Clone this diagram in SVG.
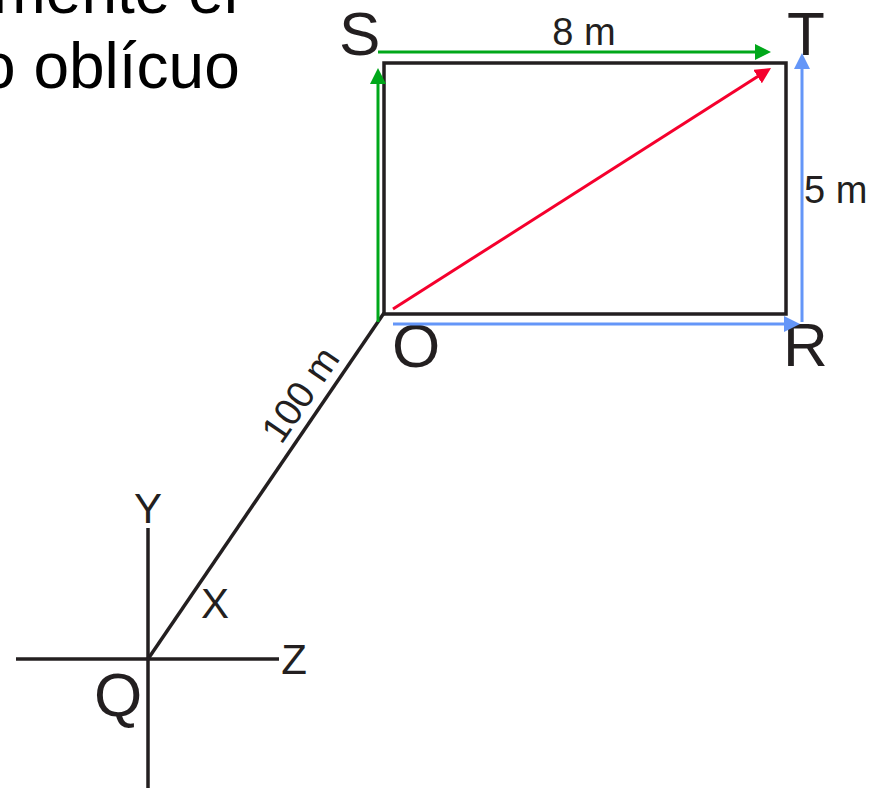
<svg xmlns="http://www.w3.org/2000/svg" width="883" height="788" viewBox="0 0 883 788">
  <style>
    text { font-family: "Liberation Sans", Arial, sans-serif; fill: #231f20; }
    .cap { font-size: 64px; fill: #000000; }
    .big { font-size: 62px; }
    .mid { font-size: 38px; }
    .ax { font-size: 42px; }
    .blk { stroke: #231f20; stroke-width: 3.5; fill: none; }
    .grn { stroke: #00a81a; stroke-width: 3; fill: none; }
    .blu { stroke: #6496f8; stroke-width: 3; fill: none; }
    .red { stroke: #f5002d; stroke-width: 3; fill: none; }
  </style>
  <defs>
    <marker id="ag" markerUnits="userSpaceOnUse" markerWidth="16" markerHeight="16" refX="8" refY="8" orient="auto">
      <path d="M0,0 L16,8 L0,16 z" fill="#00a81a"/>
    </marker>
    <marker id="ab" markerUnits="userSpaceOnUse" markerWidth="16" markerHeight="16" refX="8" refY="8" orient="auto">
      <path d="M0,0 L16,8 L0,16 z" fill="#6496f8"/>
    </marker>
    <marker id="ar" markerUnits="userSpaceOnUse" markerWidth="16" markerHeight="16" refX="8" refY="8" orient="auto">
      <path d="M0,0 L16,8 L0,16 z" fill="#f5002d"/>
    </marker>
  </defs>
  <rect width="883" height="788" fill="#ffffff"/>

  <g id="caption">
    <text class="cap" x="238" y="13" text-anchor="end">mente  el</text>
    <text class="cap" x="-20" y="88">o oblícuo</text>
  </g>

  <g id="rectangle">
    <rect class="blk" x="384" y="63" width="402" height="251"/>
  </g>

  <g id="axes">
    <line class="blk" x1="16" y1="659" x2="279" y2="659"/>
    <line class="blk" x1="148" y1="528" x2="148" y2="788"/>
    <text id="Y" class="ax" x="148" y="523" text-anchor="middle">Y</text>
    <text id="X" class="ax" x="215" y="618" text-anchor="middle">X</text>
    <text id="Z" class="ax" x="294" y="674" text-anchor="middle">Z</text>
  </g>

  <g id="S"><text class="big" x="339" y="55">S</text></g>
  <g id="T"><text class="big" x="787" y="55">T</text></g>
  <g id="O"><text class="big" x="392" y="367">O</text></g>
  <g id="R"><text class="big" x="783" y="366">R</text></g>
  <g id="Q"><text class="big" x="94" y="716">Q</text></g>

  <g id="connectors">
    <line class="blk" x1="148" y1="659" x2="384" y2="313"/>
    <line class="grn" x1="378" y1="52" x2="763" y2="52" marker-end="url(#ag)"/>
    <line class="grn" x1="378" y1="322" x2="378" y2="76" marker-end="url(#ag)"/>
    <line class="blu" x1="802" y1="322" x2="802" y2="61" marker-end="url(#ab)"/>
    <line class="blu" x1="393" y1="324" x2="792" y2="324" marker-end="url(#ab)"/>
    <line class="red" x1="393" y1="309" x2="764.3" y2="72.3" marker-end="url(#ar)"/>
  </g>

  <g id="labels">
    <text class="mid" x="584" y="45" text-anchor="middle">8 m</text>
    <text class="mid" x="804" y="203">5 m</text>
    <text class="mid" transform="translate(311,402) rotate(-55.6)" text-anchor="middle">100 m</text>
  </g>
</svg>
